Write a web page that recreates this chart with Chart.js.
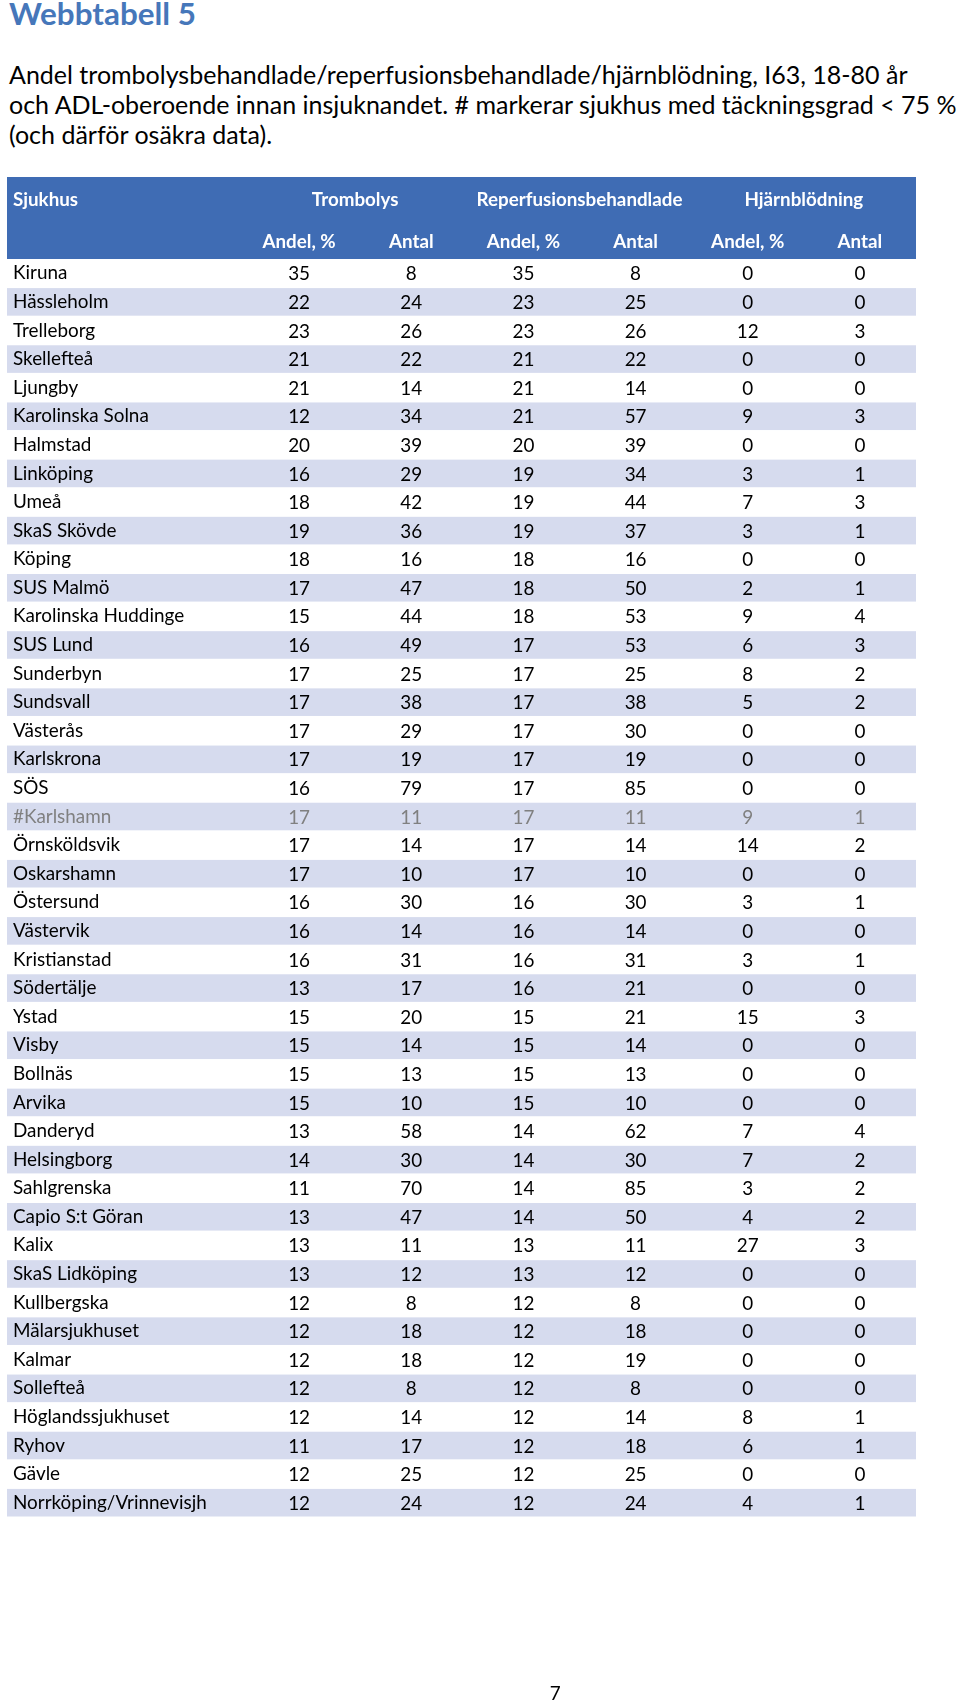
<!DOCTYPE html>
<html>
<head>
<meta charset="utf-8">
<script src="https://cdn.jsdelivr.net/npm/chart.js@4/dist/chart.umd.min.js"></script>
<style>
  html, body { margin: 0; padding: 0; background: #ffffff; }
  body { width: 960px; height: 1707px; position: relative; overflow: hidden; font-family: Lato, "Open Sans", sans-serif; }
  .t { position: absolute; white-space: nowrap; line-height: 1; }
  #title { color: #4677BA; font-weight: bold; left: 9px; }
  .sub { color: #000; left: 9px; }
  #page { color: #000; }
  #wrap { position: absolute; left: 0; top: 0; width: 960px; height: 1707px; }
</style>
</head>
<body>
<div id="title" class="t">Webbtabell 5</div>
<div id="s1" class="t sub">Andel trombolysbehandlade/reperfusionsbehandlade/hjärnblödning, I63, 18-80 år</div>
<div id="s2" class="t sub">och ADL-oberoende innan insjuknandet. # markerar sjukhus med täckningsgrad &lt; 75 %</div>
<div id="s3" class="t sub">(och därför osäkra data).</div>
<div id="wrap"><canvas id="c" width="960" height="1707"></canvas></div>
<div id="page" class="t">7</div>
<script>
// ---------- data ----------
const hospitals = [
  "Kiruna","Hässleholm","Trelleborg","Skellefteå","Ljungby","Karolinska Solna","Halmstad",
  "Linköping","Umeå","SkaS Skövde","Köping","SUS Malmö","Karolinska Huddinge","SUS Lund",
  "Sunderbyn","Sundsvall","Västerås","Karlskrona","SÖS","#Karlshamn","Örnsköldsvik",
  "Oskarshamn","Östersund","Västervik","Kristianstad","Södertälje","Ystad","Visby","Bollnäs",
  "Arvika","Danderyd","Helsingborg","Sahlgrenska","Capio S:t Göran","Kalix","SkaS Lidköping",
  "Kullbergska","Mälarsjukhuset","Kalmar","Sollefteå","Höglandssjukhuset","Ryhov","Gävle",
  "Norrköping/Vrinnevisjh"
];
const trombolysAndel = [35,22,23,21,21,12,20,16,18,19,18,17,15,16,17,17,17,17,16,17,17,17,16,16,16,13,15,15,15,15,13,14,11,13,13,13,12,12,12,12,12,11,12,12];
const trombolysAntal = [8,24,26,22,14,34,39,29,42,36,16,47,44,49,25,38,29,19,79,11,14,10,30,14,31,17,20,14,13,10,58,30,70,47,11,12,8,18,18,8,14,17,25,24];
const reperfAndel    = [35,23,23,21,21,21,20,19,19,19,18,18,18,17,17,17,17,17,17,17,17,17,16,16,16,16,15,15,15,15,14,14,14,14,13,13,12,12,12,12,12,12,12,12];
const reperfAntal    = [8,25,26,22,14,57,39,34,44,37,16,50,53,53,25,38,30,19,85,11,14,10,30,14,31,21,21,14,13,10,62,30,85,50,11,12,8,18,19,8,14,18,25,24];
const hjarnAndel     = [0,0,12,0,0,9,0,3,7,3,0,2,9,6,8,5,0,0,0,9,14,0,3,0,3,0,15,0,0,0,7,7,3,4,27,0,0,0,0,0,8,6,0,4];
const hjarnAntal     = [0,0,3,0,0,3,0,1,3,1,0,1,4,3,2,2,0,0,0,1,2,0,1,0,1,0,3,0,0,0,4,2,2,2,3,0,0,0,0,0,1,1,0,1];
const firstColumnHeader = "Sjukhus";
const groupHeaders = ["Trombolys","Reperfusionsbehandlade","Hjärnblödning"];
const subHeaders = ["Andel, %","Antal","Andel, %","Antal","Andel, %","Antal"];
const columnValues = [trombolysAndel, trombolysAntal, reperfAndel, reperfAntal, hjarnAndel, hjarnAntal];

// ---------- font fitting ----------
const FAM = 'Lato, "Open Sans", sans-serif';
const mctx = document.createElement('canvas').getContext('2d');
function fitSize(text, weight, target) {
  mctx.font = weight + ' 100px ' + FAM;
  return 100 * target / mctx.measureText(text).width;
}
const titleSize = fitSize("Webbtabell 5", "bold", 187);
const subSize = fitSize(document.getElementById('s2').textContent, "normal", 949);
const bodySize = fitSize("Norrköping/Vrinnevisjh", "normal", 194);
const headSize = fitSize("Reperfusionsbehandlade", "bold", 206);

function place(id, size, cy, left) {
  const el = document.getElementById(id);
  el.style.fontSize = size + 'px';
  el.style.top = (cy - size * 0.6) + 'px';
  if (left !== undefined) el.style.left = left + 'px';
}
place('title', titleSize, 17);
place('s1', subSize, 77);
place('s2', subSize, 107);
place('s3', subSize, 137);
const pg = document.getElementById('page');
pg.style.fontSize = bodySize + 'px';
pg.style.top = (1695 - bodySize * 0.6) + 'px';
pg.style.left = (555 - bodySize * 0.28) + 'px';

// ---------- styles ----------
const HEADER_BLUE = '#3F6CB4';
const STRIPE = '#D6DBEE';
const TEXT = '#000000';
const GREY = '#808080';
const TABLE_LEFT = 7;
const HEADER_TOP = 177;

const tablePlugin = {
  id: 'tablePlugin',
  beforeDraw(chart) {
    const ctx = chart.ctx;
    const y = chart.scales.y;
    const area = chart.chartArea;
    const right = area.right;
    const n = hospitals.length;
    const band = (area.bottom - area.top) / n;
    ctx.save();
    // header band
    ctx.fillStyle = HEADER_BLUE;
    ctx.fillRect(TABLE_LEFT, HEADER_TOP, right - TABLE_LEFT, area.top - HEADER_TOP);
    // stripes
    ctx.fillStyle = STRIPE;
    for (let i = 1; i < n; i += 2) {
      const cy = y.getPixelForValue(i);
      ctx.fillRect(TABLE_LEFT, cy - band / 2 + 0.5, right - TABLE_LEFT, band - 1);
    }
    // header texts
    const x = chart.scales.x;
    ctx.fillStyle = '#ffffff';
    ctx.font = 'bold ' + headSize + 'px ' + FAM;
    ctx.textBaseline = 'middle';
    ctx.textAlign = 'left';
    ctx.fillText(firstColumnHeader, 13, 200);
    ctx.textAlign = 'center';
    groupHeaders.forEach((g, gi) => {
      const cx = (x.getPixelForValue(gi * 2) + x.getPixelForValue(gi * 2 + 1)) / 2;
      ctx.fillText(g, cx, 200);
    });
    subHeaders.forEach((s, si) => {
      ctx.fillText(s, x.getPixelForValue(si), 242);
    });
    ctx.restore();
  },
  afterDatasetsDraw(chart) {
    const ctx = chart.ctx;
    ctx.save();
    ctx.font = bodySize + 'px ' + FAM;
    ctx.textAlign = 'center';
    ctx.textBaseline = 'middle';
    chart.data.datasets.forEach((ds, di) => {
      const meta = chart.getDatasetMeta(di);
      meta.data.forEach((pt, i) => {
        ctx.fillStyle = hospitals[i].startsWith('#') ? GREY : TEXT;
        ctx.fillText(String(columnValues[di][i]), pt.x, pt.y + 1);
      });
    });
    ctx.restore();
  }
};

const datasets = columnValues.map((vals, c) => ({
  label: subHeaders[c],
  data: vals.map((v, i) => ({ x: subHeaders[c] + '|' + c, y: hospitals[i] })),
  showLine: false,
  pointRadius: 0,
  pointHoverRadius: 0
}));

new Chart(document.getElementById('c'), {
  type: 'line',
  data: { datasets },
  options: {
    responsive: false,
    devicePixelRatio: 1,
    animation: false,
    events: [],
    layout: { padding: { left: 13, right: 44, top: 259, bottom: 190 } },
    plugins: { legend: { display: false }, tooltip: { enabled: false } },
    scales: {
      x: {
        type: 'category',
        labels: subHeaders.map((s, c) => s + '|' + c),
        offset: true,
        display: false
      },
      y: {
        type: 'category',
        labels: hospitals,
        offset: true,
        border: { display: false },
        grid: { display: false, drawTicks: false },
        afterFit(scale) { scale.width = 230; },
        ticks: {
          crossAlign: 'far',
          padding: 0,
          autoSkip: false,
          font: { family: FAM, size: bodySize },
          color: (c) => (hospitals[c.index] || '').startsWith('#') ? GREY : TEXT
        }
      }
    }
  },
  plugins: [tablePlugin]
});
</script>
</body>
</html>
